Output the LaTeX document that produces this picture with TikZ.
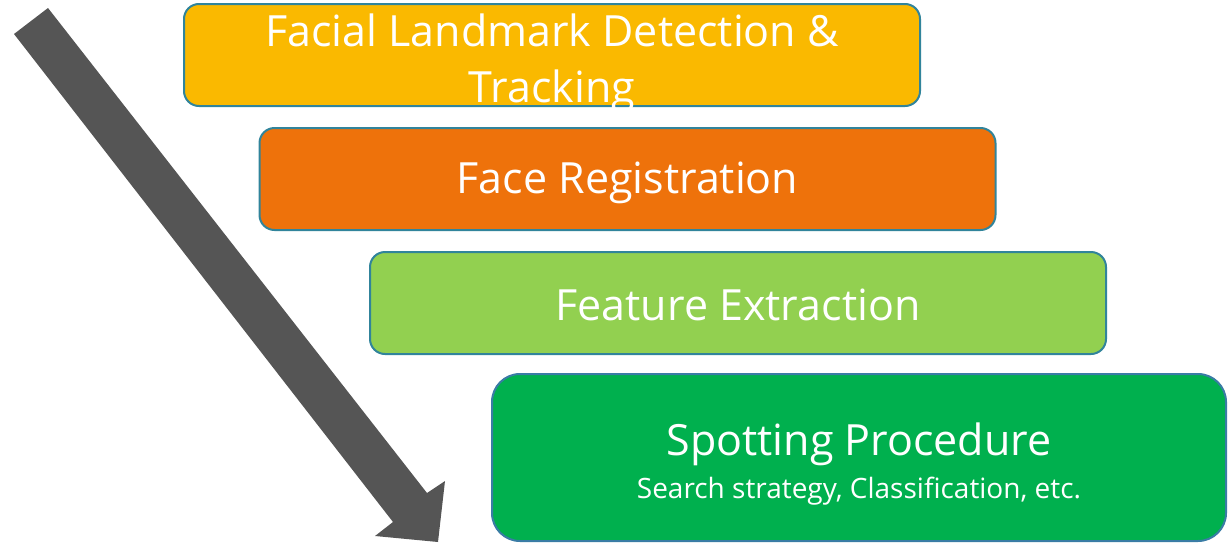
\documentclass[tikz,border=0pt]{standalone}
\usepackage{fontspec}
\setmainfont{Open Sans}
\definecolor{amberfill}{HTML}{FAB900}
\definecolor{orangefill}{HTML}{EE720B}
\definecolor{limefill}{HTML}{92D050}
\definecolor{greenfill}{HTML}{00B04E}
\definecolor{tealedge}{HTML}{31849B}
\definecolor{blueedge}{HTML}{3A7CA5}
\definecolor{arrowgray}{HTML}{555555}
\tikzset{
  stage/.style={draw=tealedge, line width=2pt, rounded corners=15pt,
    minimum width=736pt, minimum height=102pt, inner sep=0pt},
  stagetext/.style={text=white, align=center, inner sep=0pt,
    font=\fontsize{43}{56}\selectfont},
}
\begin{document}
\begin{tikzpicture}[x=1pt, y=-1pt]
  \useasboundingbox (0,0) rectangle (1228,544);
  % processing stages, each one shifted to the right
  \node[stage, fill=amberfill] (landmark) at (552,55) {};
  \node[stagetext] (landmarktext) at (552,63)
    {Facial Landmark Detection \&\\Tracking};
  \node[stage, fill=orangefill] (registration) at (627.5,179) {};
  \node[stagetext] (registrationtext) at (627.5,183) {Face Registration};
  \node[stage, fill=limefill] (features) at (738,303) {};
  \node[stagetext] (featurestext) at (738,305) {Feature Extraction};
  \node[stage, fill=greenfill, draw=blueedge, rounded corners=28pt,
        minimum width=734pt, minimum height=167pt] (spotting) at (859,457.5) {};
  \node[stagetext] (spotname) at (859,444) {Spotting Procedure};
  \node[text=white, inner sep=0pt, font=\fontsize{28}{32}\selectfont]
    (spotsub) at (859,491) {Search strategy, Classification, etc.};
  % large block arrow showing the flow from top to bottom
  \coordinate (tailA) at (14,34);
  \coordinate (tailB) at (48,8);
  \coordinate (neckB) at (427,493);
  \coordinate (barbB) at (445,481);
  \coordinate (tip) at (438,542);
  \coordinate (barbA) at (375,536);
  \coordinate (neckA) at (393,522);
  \fill[arrowgray] (tailA) -- (tailB) -- (neckB) -- (barbB) -- (tip)
    -- (barbA) -- (neckA) -- cycle;
\end{tikzpicture}
\end{document}
